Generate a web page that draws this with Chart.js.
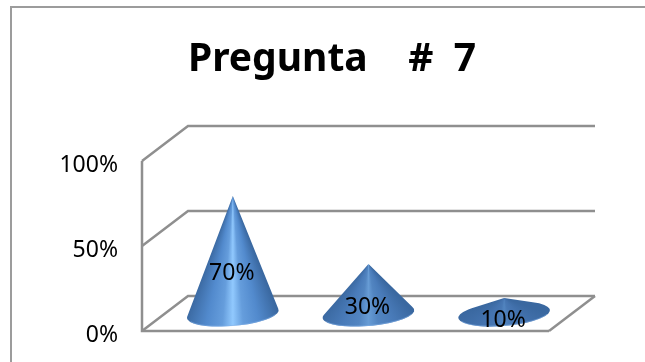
<!DOCTYPE html>
<html>
<head>
<meta charset="utf-8">
<style>
  html, body { margin: 0; padding: 0; background: #fff; overflow: hidden; }
  #wrap { position: relative; width: 645px; height: 362px; overflow: hidden; }
  #frame { position: absolute; left: 10px; top: 6px; width: 700px; height: 400px; border: 2px solid #9c9c9c; box-sizing: border-box; }
  #chart { position: absolute; left: 0; top: 0; }
</style>
<script src="https://cdn.jsdelivr.net/npm/chart.js@4"></script>
</head>
<body>
<div id="wrap">
  <div id="frame"></div>
  <canvas id="chart" width="645" height="362"></canvas>
</div>
<script>
const categories = ["A", "B", "C"];
const percentValues = [70, 30, 10];
const tickValues = [0, 50, 100];
const titleText = "Pregunta    #  7";

// depth of the 3D box, and where the cones stand inside it
const DEPTH_X = 46, DEPTH_Y = -35;
const CONE_X = 23, CONE_Y = -16;
const CONE_RX = 46, CONE_RY = 12, CONE_TILT = -0.087;
const TITLE_SHIFT = 30;

function mix(a, b, t) {
  return a.map((v, i) => Math.round(v + (b[i] - v) * t));
}
function rgb(c) {
  return "rgb(" + c.join(",") + ")";
}

const box3d = {
  id: "box3d",
  afterLayout(chart) {
    // title is centred on the plot box, not the whole canvas
    chart.titleBlock.left += TITLE_SHIFT;
    chart.titleBlock.right += TITLE_SHIFT;
  },
  beforeDatasetsDraw(chart) {
    const { ctx, chartArea: a, scales: { y } } = chart;
    ctx.save();
    ctx.strokeStyle = "#8f8f8f";
    ctx.lineWidth = 2.5;
    // front left edge
    ctx.beginPath();
    ctx.moveTo(a.left, a.top);
    ctx.lineTo(a.left, a.bottom);
    ctx.lineTo(a.right, a.bottom);
    ctx.stroke();
    // floor right edge
    ctx.beginPath();
    ctx.moveTo(a.right, a.bottom);
    ctx.lineTo(a.right + DEPTH_X, a.bottom + DEPTH_Y);
    ctx.stroke();
    // one line round side wall and back wall for each tick
    tickValues.forEach(v => {
      const py = y.getPixelForValue(v);
      ctx.beginPath();
      ctx.moveTo(a.left, py);
      ctx.lineTo(a.left + DEPTH_X, py + DEPTH_Y);
      ctx.lineTo(a.right + DEPTH_X, py + DEPTH_Y);
      ctx.stroke();
    });
    ctx.restore();
  }
};

const cones = {
  id: "cones",
  afterDatasetsDraw(chart) {
    const { ctx, chartArea: a } = chart;
    const meta = chart.getDatasetMeta(0);
    const fullHeight = a.bottom - a.top;
    meta.data.forEach(bar => {
      const cx = bar.x + CONE_X;
      const baseY = bar.base + CONE_Y - 1;
      const tipY = bar.y + CONE_Y;
      const h = baseY - tipY;

      // tangent points from the tip onto the tilted base ellipse
      const cos = Math.cos(CONE_TILT), sin = Math.sin(CONE_TILT);
      const lx = (-h * -sin) / CONE_RX;
      const ly = (-h * cos) / CONE_RY;
      const phi = Math.atan2(ly, lx);
      const open = Math.acos(1 / Math.hypot(lx, ly));
      const t1 = phi + open, t2 = phi - open + 2 * Math.PI;
      const ex = t => cx + CONE_RX * Math.cos(t) * cos - CONE_RY * Math.sin(t) * sin;
      const ey = t => baseY + CONE_RX * Math.cos(t) * sin + CONE_RY * Math.sin(t) * cos;

      // conic fill from the tip so the highlight fans out towards the base
      const half = Math.atan2(CONE_RX, h) / (2 * Math.PI);
      const grad = ctx.createConicGradient(-Math.PI / 2, cx, tipY);
      const tall = Math.min(1, h / (fullHeight * 0.7));
      const edge = [58, 104, 160];
      const mid = mix([72, 122, 182], [146, 202, 255], tall);
      const side = mix([66, 112, 170], [82, 138, 205], tall);
      grad.addColorStop(0.5 - half, rgb(edge));
      grad.addColorStop(0.5 - half * 0.55, rgb(side));
      grad.addColorStop(0.5 - half * 0.22, rgb(mix(side, mid, 0.3)));
      grad.addColorStop(0.5, rgb(mid));
      grad.addColorStop(0.5 + half * 0.22, rgb(mix(side, mid, 0.3)));
      grad.addColorStop(0.5 + half * 0.55, rgb(side));
      grad.addColorStop(0.5 + half, rgb(edge));

      ctx.save();
      ctx.beginPath();
      ctx.moveTo(cx, tipY);
      ctx.lineTo(ex(t1), ey(t1));
      ctx.ellipse(cx, baseY, CONE_RX, CONE_RY, CONE_TILT, t1, t2);
      ctx.closePath();
      ctx.fillStyle = grad;
      ctx.fill();
      // pale rim along the front of the base
      ctx.beginPath();
      ctx.ellipse(cx, baseY, CONE_RX - 0.5, CONE_RY - 0.5, CONE_TILT, 0.35, Math.PI - 0.35);
      ctx.strokeStyle = "rgba(130,175,230,0.55)";
      ctx.lineWidth = 1;
      ctx.stroke();
      ctx.restore();
    });
  }
};

// value labels sit on top of the cones
const coneLabels = {
  id: "coneLabels",
  afterDraw(chart) {
    const { ctx } = chart;
    const meta = chart.getDatasetMeta(0);
    ctx.save();
    ctx.fillStyle = "#000";
    ctx.font = "23px 'Noto Sans'";
    ctx.textAlign = "center";
    ctx.textBaseline = "middle";
    meta.data.forEach((bar, i) => {
      const py = Math.min((bar.y + bar.base) / 2, bar.base - 13) + 2;
      ctx.fillText(percentValues[i] + "%", bar.x + CONE_X - 1, py);
    });
    ctx.restore();
  }
};

new Chart(document.getElementById("chart"), {
  type: "bar",
  data: {
    labels: categories,
    datasets: [{ data: percentValues, backgroundColor: "rgba(0,0,0,0)", borderWidth: 0 }]
  },
  plugins: [box3d, cones, coneLabels],
  options: {
    responsive: false,
    animation: false,
    layout: { padding: { left: 55, right: 96, top: 36, bottom: 31 } },
    plugins: {
      legend: { display: false },
      tooltip: { enabled: false },
      title: {
        display: true,
        text: titleText,
        color: "#000",
        font: { family: "Noto Sans", size: 39, weight: "bold" },
        padding: { top: 0, bottom: 78.2 }
      }
    },
    scales: {
      x: { display: false },
      y: {
        min: 0,
        max: 100,
        afterFit(scale) {
          scale.width = 87;
          scale.paddingTop = 0;
          scale.paddingBottom = 0;
        },
        afterBuildTicks(scale) { scale.ticks = tickValues.map(v => ({ value: v })); },
        border: { display: false },
        grid: { display: false, drawTicks: false },
        ticks: {
          padding: 24,
          labelOffset: 4,
          color: "#000",
          font: { family: "Noto Sans", size: 23 },
          callback: v => v + "%"
        }
      }
    }
  }
});
</script>
</body>
</html>
